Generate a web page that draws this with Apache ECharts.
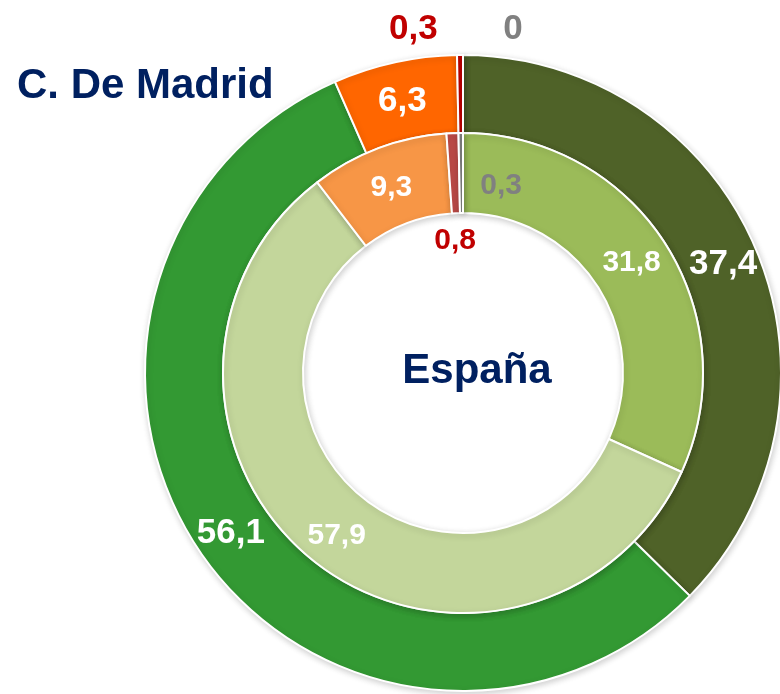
<!DOCTYPE html>
<html>
<head>
<meta charset="utf-8">
<script src="https://cdn.jsdelivr.net/npm/echarts@6/dist/echarts.min.js"></script>
<style>
html,body{margin:0;padding:0;background:#fff;}
#chart{width:780px;height:694px;}
</style>
</head>
<body>
<div id="chart"></div>
<script>
// Categories (clockwise from 12 o'clock)
const categories = ['Cat. 1', 'Cat. 2', 'Cat. 3', 'Cat. 4', 'Cat. 5'];
// Outer ring: C. De Madrid
const madridValues = [37.4, 56.1, 6.3, 0.3, 0];
// Inner ring: España
const espanaValues = [31.8, 57.9, 9.3, 0.8, 0.3];

const madridTitle = 'C. De Madrid';
const espanaTitle = 'España';

// Styles
const madridColors = ['#4F6228', '#339933', '#FF6600', '#C00000', '#808080'];
const espanaColors = ['#9BBB59', '#C3D69B', '#F79646', '#BE4B48', '#808080'];
const madridLabelColors = ['#fff', '#fff', '#fff', '#C00000', '#808080'];
const espanaLabelColors = ['#fff', '#fff', '#fff', '#C00000', '#808080'];
const madridOffsets = [[0,0],[0,0],[0,4],[-47,-62],[50,-62]];
const espanaOffsets = [[-2,0],[0,4],[0,5],[1,71],[40,16]];

const fmt = v => String(v).replace('.', ',');

function buildData(values, colors, labelColors, offsets, fontSize) {
  return values.map((v, i) => ({
    name: categories[i],
    value: v,
    itemStyle: { color: colors[i] },
    label: { color: labelColors[i], offset: offsets[i], fontSize: fontSize }
  }));
}

const chart = echarts.init(document.getElementById('chart'), null, { renderer: 'canvas' });
const baseSeries = {
  type: 'pie',
  center: [463, 373],
  startAngle: 90,
  clockwise: true,
  silent: true,
  animation: false,
  avoidLabelOverlap: false,
  labelLine: { show: false },
  itemStyle: {
    borderColor: '#fff',
    borderWidth: 2,
    shadowBlur: 6,
    shadowColor: 'rgba(0,0,0,0.18)',
    shadowOffsetX: 1,
    shadowOffsetY: 2
  },
  emphasis: { disabled: true }
};

chart.setOption({
  backgroundColor: '#fff',
  title: [
    {
      text: madridTitle, left: 12, top: 60,
      textStyle: { fontFamily: 'Liberation Sans', fontWeight: 'bold', fontSize: 42, color: '#002060' }
    },
    {
      text: espanaTitle, left: 472, top: 345, textAlign: 'center',
      textStyle: { fontFamily: 'Liberation Sans', fontWeight: 'bold', fontSize: 42, color: '#002060' }
    }
  ],
  series: [
    Object.assign({}, baseSeries, {
      name: madridTitle,
      radius: [240, 318],
      label: {
        show: true, position: 'inside', rotate: 0,
        formatter: p => fmt(p.value),
        fontFamily: 'Liberation Sans', fontWeight: 'bold', fontSize: 35
      },
      data: buildData(madridValues, madridColors, madridLabelColors, madridOffsets, 35)
    }),
    Object.assign({}, baseSeries, {
      name: espanaTitle,
      radius: [160, 240],
      label: {
        show: true, position: 'inside', rotate: 0,
        formatter: p => fmt(p.value),
        fontFamily: 'Liberation Sans', fontWeight: 'bold', fontSize: 30
      },
      data: buildData(espanaValues, espanaColors, espanaLabelColors, espanaOffsets, 30)
    })
  ]
});
</script>
</body>
</html>
